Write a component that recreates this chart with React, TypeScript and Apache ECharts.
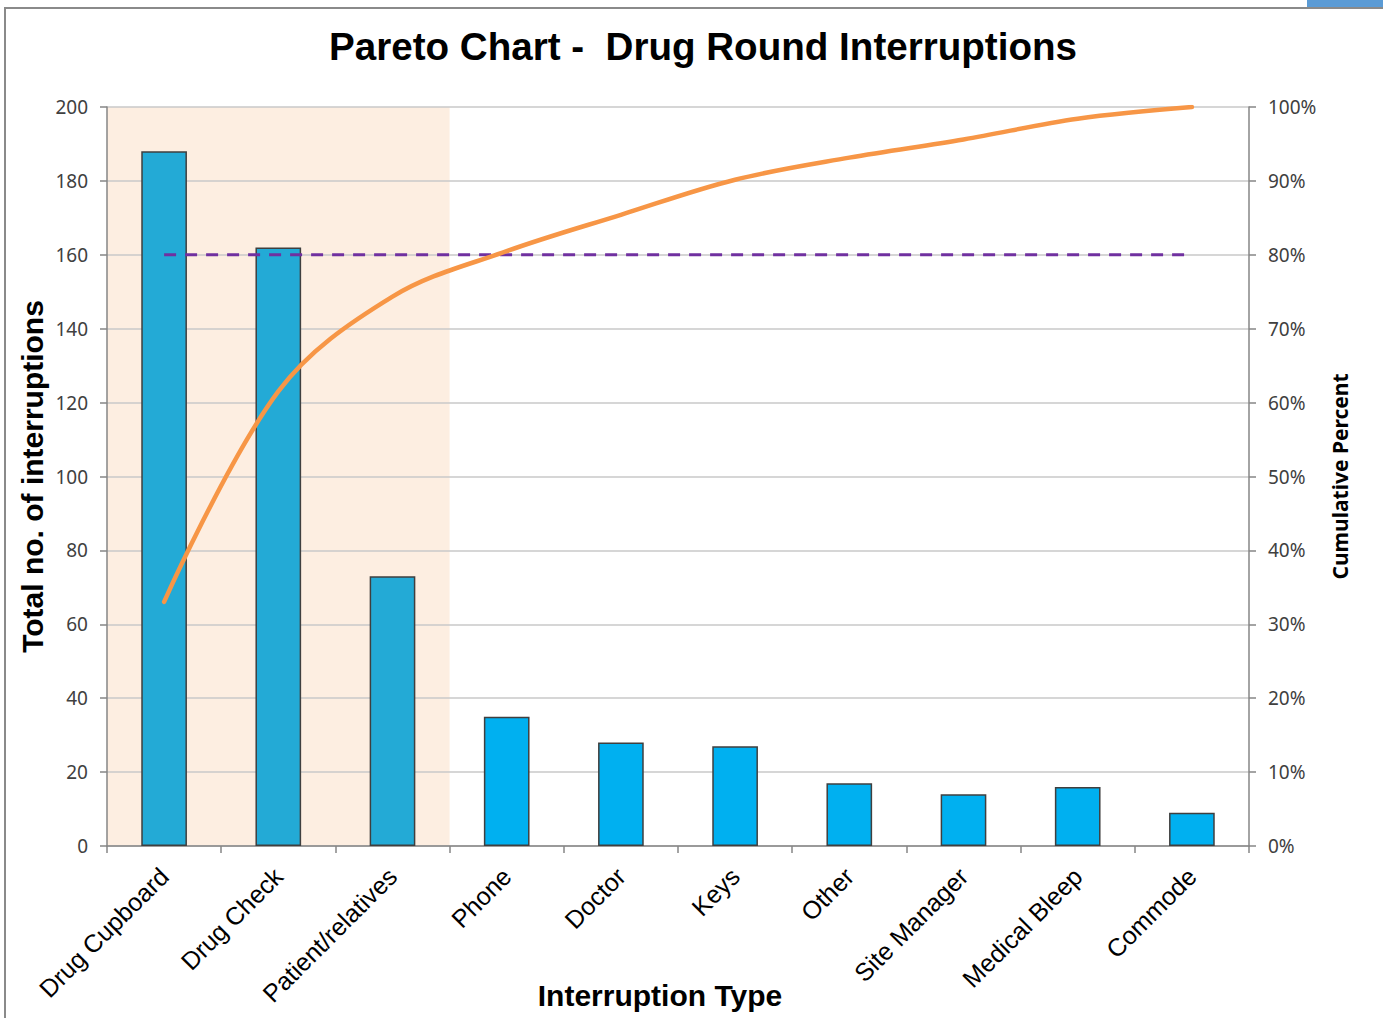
import React, { useEffect, useRef } from "react";
import * as echarts from "echarts";

const categories = [
  "Drug Cupboard",
  "Drug Check",
  "Patient/relatives",
  "Phone",
  "Doctor",
  "Keys",
  "Other",
  "Site Manager",
  "Medical Bleep",
  "Commode",
];
const interruptions = [188, 162, 73, 35, 28, 27, 17, 14, 16, 9];
const thresholdPercent = [80, 80, 80, 80, 80, 80, 80, 80, 80, 80];
const vitalFewCount = 3;
const leftTicks = { min: 0, max: 200, interval: 20 };
const rightTicks = { min: 0, max: 100, interval: 10 };

const total = interruptions.reduce((a, b) => a + b, 0);
const cumulativePercent: number[] = [];
interruptions.reduce((acc, v) => {
  const s = acc + v;
  cumulativePercent.push((s / total) * 100);
  return s;
}, 0);

export default function App() {
  const ref = useRef<HTMLDivElement>(null);
  useEffect(() => {
    if (!ref.current) return;
    const chart = echarts.init(ref.current, undefined, { renderer: "svg" });
    const axisGray = "#868686";
    const option: any = {
      animation: false,
      backgroundColor: "#ffffff",
      title: {
        text: "Pareto Chart -  Drug Round Interruptions",
        left: 698,
        top: 22,
        textAlign: "center",
        textStyle: {
          fontFamily: "Liberation Sans, Arial",
          fontWeight: "bold",
          fontSize: 38.6,
          color: "#000",
        },
      },
      grid: {
        left: 107,
        width: 1142,
        top: 107,
        height: 739,
        containLabel: false,
        outerBoundsMode: "none",
      },
      xAxis: {
        type: "category",
        data: categories,
        boundaryGap: true,
        name: "Interruption Type",
        nameLocation: "middle",
        nameGap: 134,
        nameMoveOverlap: false,
        nameTextStyle: {
          fontFamily: "Liberation Sans, Arial",
          fontWeight: "bold",
          fontSize: 30,
          color: "#000",
          padding: [0, 36, 0, 0],
        },
        axisLine: { show: true, lineStyle: { color: axisGray, width: 1.5 } },
        axisTick: { show: true, length: 7, lineStyle: { color: axisGray, width: 1.5 } },
        axisLabel: {
          rotate: 45,
          interval: 0,
          margin: 26,
          fontFamily: "Liberation Sans, Arial",
          fontSize: 25,
          color: "#000",
        },
        splitLine: { show: false },
      },
      yAxis: [
        {
          type: "value",
          min: leftTicks.min,
          max: leftTicks.max,
          interval: leftTicks.interval,
          name: "Total no. of interruptions",
          nameLocation: "middle",
          nameRotate: 90,
          nameGap: 60,
          nameMoveOverlap: false,
          nameTextStyle: {
            fontFamily: "Liberation Sans, Arial",
            fontWeight: "bold",
            fontSize: 30,
            color: "#000",
          },
          axisLine: { show: true, lineStyle: { color: axisGray, width: 1.5 } },
          axisTick: { show: true, length: 7, lineStyle: { color: axisGray, width: 1.5 } },
          axisLabel: {
            margin: 19,
            fontFamily: "Noto Sans, Open Sans",
            fontSize: 19,
            color: "#404040",
          },
          splitLine: { show: true, lineStyle: { color: "#C8C8C8", width: 1.5 } },
        },
        {
          type: "value",
          min: rightTicks.min,
          max: rightTicks.max,
          interval: rightTicks.interval,
          name: "Cumulative Percent",
          nameLocation: "middle",
          nameRotate: 90,
          nameGap: 80,
          nameMoveOverlap: false,
          nameTextStyle: {
            fontFamily: "Noto Sans, Open Sans",
            fontWeight: "bold",
            fontSize: 21,
            color: "#000",
          },
          axisLine: { show: true, lineStyle: { color: axisGray, width: 1.5 } },
          axisTick: { show: true, length: 7, lineStyle: { color: axisGray, width: 1.5 } },
          axisLabel: {
            margin: 19,
            formatter: "{value}%",
            fontFamily: "Noto Sans, Open Sans",
            fontSize: 19,
            color: "#404040",
          },
          splitLine: { show: false },
        },
      ],
      series: [
        {
          type: "bar",
          name: "Interruptions",
          yAxisIndex: 0,
          barWidth: "40%",
          z: 2,
          data: interruptions.map((v, i) => ({
            value: v,
            itemStyle: {
              color: i < vitalFewCount ? "#23AAD6" : "#00B0F0",
              borderColor: "#3F3F3F",
              borderWidth: 1.5,
            },
          })),
        },
        {
          type: "line",
          name: "80%",
          yAxisIndex: 1,
          data: thresholdPercent,
          symbol: "none",
          z: 3,
          lineStyle: { color: "#7030A0", width: 3, type: [12, 9] },
        },
        {
          type: "line",
          name: "Cumulative",
          yAxisIndex: 1,
          data: cumulativePercent,
          smooth: 0.35,
          symbol: "none",
          z: 4,
          lineStyle: { color: "#F79646", width: 4.5, cap: "round" },
        },
      ],
    };
    chart.setOption(option);

    const p0 = chart.convertToPixel({ xAxisIndex: 0 }, 0) as number;
    const p1 = chart.convertToPixel({ xAxisIndex: 0 }, 1) as number;
    const band = p1 - p0;
    const yTop = chart.convertToPixel({ yAxisIndex: 0 }, leftTicks.max) as number;
    const yBot = chart.convertToPixel({ yAxisIndex: 0 }, leftTicks.min) as number;
    const shadeLeft = p0 - band / 2;
    chart.setOption({
      graphic: [
        {
          type: "rect",
          z: -10,
          silent: true,
          shape: { x: shadeLeft, y: yTop, width: band * vitalFewCount, height: yBot - yTop },
          style: { fill: "#FDEEE1" },
        },
        {
          type: "rect",
          z: 100,
          silent: true,
          shape: { x: 5, y: 8, width: 1500, height: 1200 },
          style: { fill: "none", stroke: "#8A8A8A", lineWidth: 2 },
        },
        {
          type: "rect",
          z: 101,
          silent: true,
          shape: { x: 1307, y: 0, width: 80, height: 7 },
          style: { fill: "#5B9BD5" },
        },
      ],
    });
    return () => chart.dispose();
  }, []);
  return (
    <div
      ref={ref}
      style={{ position: "fixed", left: 0, top: 0, width: 1383, height: 1018 }}
    />
  );
}
